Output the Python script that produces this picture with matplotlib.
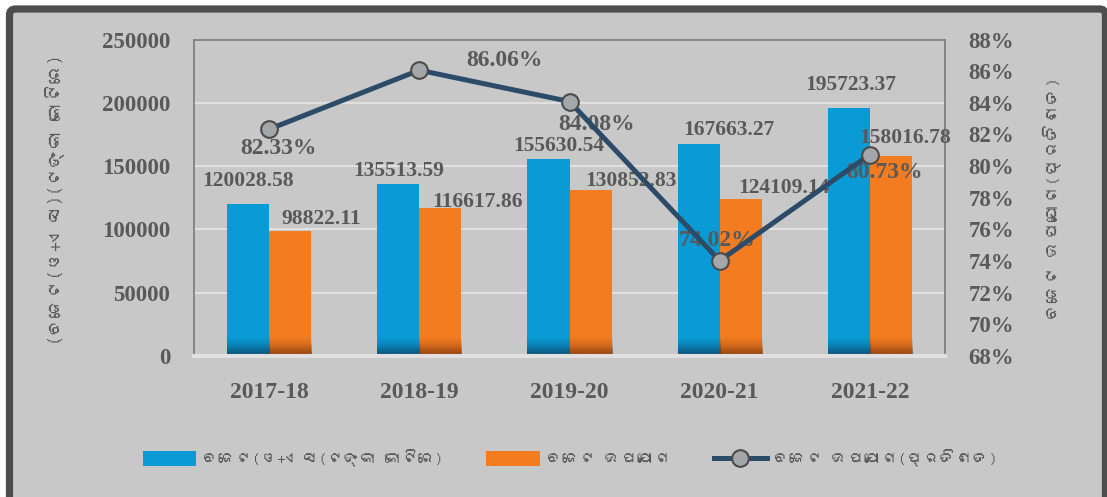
import matplotlib
matplotlib.use('Agg')
import matplotlib.pyplot as plt
import matplotlib.transforms as mtransforms
from matplotlib import font_manager
from matplotlib.ft2font import FT2Font
from matplotlib.patches import FancyBboxPatch
from matplotlib.colors import to_rgb
import numpy as np

# ---- data ----
years = ['2017-18', '2018-19', '2019-20', '2020-21', '2021-22']
budget = [120028.58, 135513.59, 155630.54, 167663.27, 195723.37]
used = [98822.11, 116617.86, 130852.83, 124109.14, 158016.78]
pct = [82.33, 86.06, 84.08, 74.02, 80.73]

budget_name = 'ବଜେଟ(ଓ+ଏସ(ଟଙ୍କା କୋଟିରେ)'
used_name = 'ବଜେଟ ଉପଯୋଗ'
pct_name = 'ବଜେଟ ଉପଯୋଗ(ପ୍ରତିଶତ)'
left_title = '(ବଜେଟ(ଓ+ଏସ)(ଟଙ୍କା କୋଟିରେ)'
right_title = 'ବଜେଟ ଉପଯୋଗ(ପ୍ରତିଶତ)'

# label nudges (pixels) - copied by eye from the excel chart
budget_off = [(0, 23), (0, 13), (10, 13), (30, 14), (2, 23)]
used_off = [(31, 12), (37, 6), (40, 9), (43, 11), (14, 18)]
pct_off = [(9, -19), (85, 10), (27, -23), (-3, 20), (15, -18)]

# look for any installed font that carries odia script
odia = ['Noto Sans', 'DejaVu Sans']
for f in font_manager.fontManager.ttflist:
    try:
        if 0x0B2C in FT2Font(f.fname).get_charmap():
            odia = [f.name] + odia
            break
    except Exception:
        pass

plt.rcParams['font.family'] = 'Liberation Serif'
plt.rcParams['font.weight'] = 'bold'
txt = '#595959'

W, H = 1107, 497
fig = plt.figure(figsize=(W / 100, H / 100), dpi=100)
fig.patch.set_facecolor('white')

# outer rounded frame
frame = FancyBboxPatch((9.5, -30), 1096, 518, boxstyle='round,pad=0,rounding_size=6',
                       transform=mtransforms.IdentityTransform(),
                       fc='#c8c8c8', ec='#4d4d4d', lw=5.2, zorder=-5)
fig.patches.append(frame)

ax = fig.add_axes([194 / W, 1 - 356 / H, (945 - 194) / W, (356 - 39.5) / H])
ax.set_facecolor('none')

x = np.arange(len(years))
w = 0.28
bars1 = ax.bar(x - w / 2, budget, w, color='#0a9bd6', zorder=2)
bars2 = ax.bar(x + w / 2, used, w, color='#f47c20', zorder=2)


def shade(bars, dark):
    r, g, b = to_rgb(dark)
    n = 40
    img = np.zeros((n, 1, 4))
    img[:, 0, 0] = r
    img[:, 0, 1] = g
    img[:, 0, 2] = b
    img[:, 0, 3] = np.linspace(0, 1, n) ** 1.6 * 0.9
    for bb in bars:
        ax.imshow(img, extent=[bb.get_x(), bb.get_x() + bb.get_width(), 0, 16000],
                  aspect='auto', zorder=2.5, interpolation='bilinear')


shade(bars1, '#0b3f5e')
shade(bars2, '#7a360c')

ax.set_xlim(-0.5, len(years) - 0.5)
ax.set_ylim(0, 250000)
ax.set_yticks(range(0, 250001, 50000))
ax.set_xticks(x)
ax.set_xticklabels(years)
ax.yaxis.grid(True, color='#e0e0e0', lw=1.5)
ax.set_axisbelow(True)
ax.tick_params(axis='y', length=0, pad=17, labelsize=16.5, labelcolor=txt)
ax.tick_params(axis='x', length=0, pad=19, labelsize=17, labelcolor=txt)
for s in ['top', 'left', 'right']:
    ax.spines[s].set_color('#808080')
    ax.spines[s].set_linewidth(1.3)
ax.spines['bottom'].set_color('#e0e0e0')
ax.spines['bottom'].set_linewidth(3)

for bb, v, off in zip(bars1, budget, budget_off):
    ax.annotate(f'{v:.2f}', (bb.get_x() + bb.get_width() / 2, v), xytext=off,
                textcoords='offset pixels', ha='center', va='center',
                fontsize=15.5, color=txt, zorder=4)
for bb, v, off in zip(bars2, used, used_off):
    ax.annotate(f'{v:.2f}', (bb.get_x() + bb.get_width() / 2, v), xytext=off,
                textcoords='offset pixels', ha='center', va='center',
                fontsize=15.5, color=txt, zorder=4)

ax2 = ax.twinx()
ax2.set_ylim(68, 88)
ax2.set_yticks(range(68, 89, 2))
ax2.set_yticklabels([f'{v}%' for v in range(68, 89, 2)])
ax2.tick_params(axis='y', length=0, pad=17, labelsize=16.5, labelcolor=txt)
for s in ax2.spines.values():
    s.set_visible(False)

line, = ax2.plot(x, pct, color='#2c4b69', lw=3.6, marker='o', ms=12,
                 mfc='#a4a7a9', mec='#4b4b4b', mew=1.5, zorder=5)
for xi, v, off in zip(x, pct, pct_off):
    ax2.annotate(f'{v:.2f}%', (xi, v), xytext=off, textcoords='offset pixels',
                 ha='center', va='center', fontsize=17, color=txt, zorder=3)

fig.text(55 / W, 1 - 200 / H, left_title, rotation=90, ha='center', va='center',
         fontsize=13.5, color=txt, family=odia, weight='normal')
fig.text(1052 / W, 1 - 198 / H, right_title, rotation=90, ha='center', va='center',
         fontsize=13, color=txt, family=odia, weight='normal')

fig.legend([bars1, bars2, line], [budget_name, used_name, pct_name],
           loc='center', bbox_to_anchor=(570 / W, 1 - 458 / H), ncol=3,
           frameon=False, handlelength=3.2, handleheight=1.0, columnspacing=2.6,
           handletextpad=0.35, labelcolor=txt,
           prop={'family': odia, 'size': 12, 'weight': 'normal'})

plt.savefig('out.png', dpi=100)
